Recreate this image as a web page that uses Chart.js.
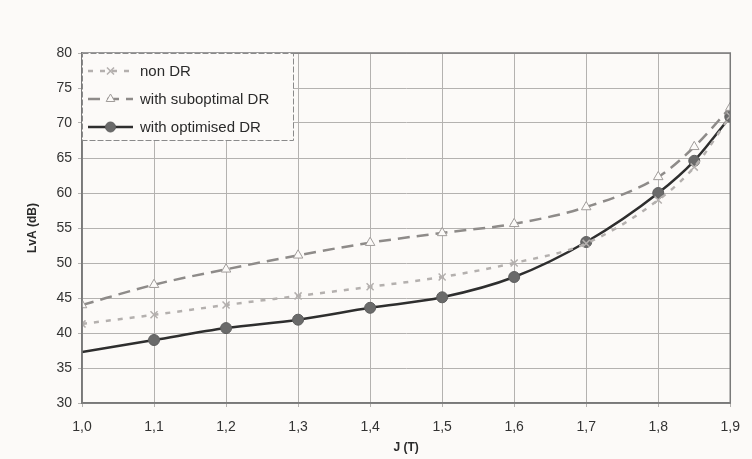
<!DOCTYPE html>
<html>
<head>
<meta charset="utf-8">
<script src="https://cdn.jsdelivr.net/npm/chart.js@4"></script>
<style>
  html, body { margin: 0; padding: 0; background: #fcfaf8; }
  #wrap { width: 752px; height: 459px; position: relative; }
</style>
</head>
<body>
<div id="wrap"><canvas id="lvaChart" width="752" height="459"></canvas></div>
<script>
// J (T) values on the x axis
const jValues = [1.0, 1.1, 1.2, 1.3, 1.4, 1.5, 1.6, 1.7, 1.8, 1.85, 1.9];
// LvA (dB) per series
const nonDR = [41.3, 42.6, 44.0, 45.3, 46.6, 48.0, 50.0, 52.8, 59.0, 63.7, 71.0];
const suboptimalDR = [44.0, 46.9, 49.1, 51.1, 52.9, 54.3, 55.6, 58.0, 62.3, 66.6, 72.2];
const optimisedDR = [37.3, 39.0, 40.7, 41.9, 43.6, 45.1, 48.0, 53.0, 60.0, 64.6, 70.9];
const seriesLabels = ['non DR', 'with suboptimal DR', 'with optimised DR'];
// tick labels (comma decimals, as in the original)
const xTickValues = [1.0, 1.1, 1.2, 1.3, 1.4, 1.5, 1.6, 1.7, 1.8, 1.9];
const xTickLabels = ['1,0', '1,1', '1,2', '1,3', '1,4', '1,5', '1,6', '1,7', '1,8', '1,9'];
const yTickValues = [30, 35, 40, 45, 50, 55, 60, 65, 70, 75, 80];

const toPoints = arr => arr.map((v, i) => ({ x: jValues[i], y: v }));
const FONT = '"Liberation Sans", Arial, sans-serif';

// Draws the boxed legend in the top-left corner of the plot
const boxLegend = {
  id: 'boxLegend',
  afterDraw(chart) {
    const ctx = chart.ctx;
    const area = chart.chartArea;
    const x0 = area.left, y0 = area.top, w = 211, h = 87;
    ctx.save();
    ctx.fillStyle = '#fcfaf8';
    ctx.fillRect(x0, y0, w, h);
    ctx.strokeStyle = '#8a8a8a';
    ctx.lineWidth = 1;
    ctx.setLineDash([6, 2]);
    ctx.strokeRect(x0 + 0.5, y0 + 0.5, w, h);
    ctx.setLineDash([]);
    ctx.font = '15px ' + FONT;
    ctx.textBaseline = 'middle';
    chart.data.datasets.forEach((ds, i) => {
      const y = y0 + 18 + i * 28;
      const lx1 = x0 + 6, lx2 = x0 + 51, mx = (lx1 + lx2) / 2;
      ctx.strokeStyle = ds.borderColor;
      ctx.lineWidth = ds.borderWidth;
      ctx.setLineDash(ds.borderDash || []);
      ctx.beginPath();
      ctx.moveTo(lx1, y);
      ctx.lineTo(lx2, y);
      ctx.stroke();
      ctx.setLineDash([]);
      ctx.fillStyle = ds.pointBackgroundColor;
      ctx.strokeStyle = ds.pointBorderColor;
      ctx.lineWidth = ds.pointBorderWidth;
      Chart.helpers.drawPoint(ctx, {
        pointStyle: ds.pointStyle,
        radius: ds.legendRadius,
        borderWidth: ds.pointBorderWidth
      }, mx, y);
      ctx.fillStyle = '#2a2a2a';
      ctx.fillText(ds.label, x0 + 58, y + 1);
    });
    ctx.restore();
  }
};

new Chart(document.getElementById('lvaChart'), {
  type: 'line',
  data: {
    datasets: [
      {
        label: seriesLabels[0],
        data: toPoints(nonDR),
        borderColor: '#b4b0ae',
        borderWidth: 2.5,
        borderDash: [5, 7],
        pointStyle: 'crossRot',
        pointRadius: 5,
        legendRadius: 5,
        pointBorderWidth: 1.5,
        pointBorderColor: '#b4b0ae',
        pointBackgroundColor: '#b4b0ae',
        cubicInterpolationMode: 'monotone'
      },
      {
        label: seriesLabels[1],
        data: toPoints(suboptimalDR),
        borderColor: '#8e8b89',
        borderWidth: 2.5,
        borderDash: [12, 7],
        pointStyle: 'triangle',
        pointRadius: 5.5,
        legendRadius: 5,
        pointBorderWidth: 1,
        pointBorderColor: '#a09c9a',
        pointBackgroundColor: '#fcfaf8',
        cubicInterpolationMode: 'monotone'
      },
      {
        label: seriesLabels[2],
        data: toPoints(optimisedDR),
        borderColor: '#2e2e2e',
        borderWidth: 2.5,
        pointStyle: 'circle',
        pointRadius: ctx => (ctx.dataIndex === 0 ? 0 : 5.5),
        legendRadius: 5,
        pointBorderWidth: 1,
        pointBorderColor: '#5e5e5e',
        pointBackgroundColor: '#6a6a6a',
        cubicInterpolationMode: 'monotone'
      }
    ]
  },
  options: {
    responsive: false,
    animation: false,
    layout: { padding: { top: 53, right: 18, left: 21, bottom: 0 } },
    plugins: {
      legend: { display: false },
      tooltip: { enabled: false }
    },
    scales: {
      x: {
        type: 'linear',
        min: 1.0,
        max: 1.9,
        afterBuildTicks: scale => { scale.ticks = xTickValues.map(v => ({ value: v })); },
        afterFit: scale => { scale.height = 56; },
        ticks: {
          color: '#333333',
          font: { size: 14, family: FONT },
          padding: 12,
          maxRotation: 0,
          callback: (v) => xTickLabels[xTickValues.findIndex(t => Math.abs(t - v) < 1e-6)]
        },
        grid: { color: '#b4b2b0', lineWidth: 1, tickLength: 4 },
        border: { color: '#7a7a7a', width: 1.5 },
        title: {
          display: true,
          text: 'J (T)',
          color: '#2a2a2a',
          font: { size: 12, weight: 'bold', family: FONT },
          padding: { top: 0 }
        }
      },
      y: {
        min: 30,
        max: 80,
        afterBuildTicks: scale => { scale.ticks = yTickValues.map(v => ({ value: v })); },
        afterFit: scale => { scale.width = 61; },
        ticks: {
          color: '#333333',
          font: { size: 14, family: FONT },
          padding: 6
        },
        grid: { color: '#b4b2b0', lineWidth: 1, tickLength: 4 },
        border: { color: '#7a7a7a', width: 1.5 },
        title: {
          display: true,
          text: 'LvA (dB)',
          color: '#2a2a2a',
          font: { size: 12, weight: 'bold', family: FONT },
          padding: { bottom: 10 }
        }
      }
    }
  },
  plugins: [boxLegend, {
    id: 'frame',
    afterDatasetsDraw(chart) {
      const a = chart.chartArea, ctx = chart.ctx;
      ctx.save();
      ctx.strokeStyle = '#7a7a7a';
      ctx.lineWidth = 1.5;
      ctx.strokeRect(a.left, a.top, a.right - a.left, a.bottom - a.top);
      ctx.restore();
    }
  }]
});
</script>
</body>
</html>
